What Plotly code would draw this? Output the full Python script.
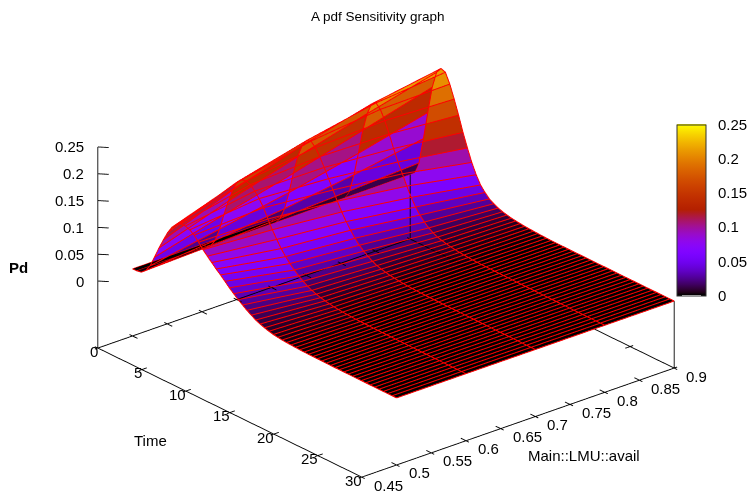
import math
import plotly.graph_objects as go

time_vals = [i * 0.5 for i in range(61)]
avail_vals = [0.5, 0.6, 0.7, 0.8, 0.9]
time_ticks = [0, 5, 10, 15, 20, 25, 30]
avail_ticks = [0.45, 0.5, 0.55, 0.6, 0.65, 0.7, 0.75, 0.8, 0.85, 0.9]
avail_labels = ["0.45", "0.5", "0.55", "0.6", "0.65", "0.7", "0.75", "0.8", "0.85", "0.9"]
pd_ticks = [0, 0.05, 0.1, 0.15, 0.2, 0.25]
pd_labels = ["0", "0.05", "0.1", "0.15", "0.2", "0.25"]

pd_a50 = [0, .0003, .002, .009, .022, .042, .063, .082, .1, .114, .123, .128, .128, .125, .119, .11, .1, .092, .084, .076,
          .069, .061, .053, .046, .039, .033, .027, .022, .017, .0135, .0105, .008, .006, .0048, .0038, .0031, .0026, .0021, .0017, .0014,
          .0012, .001, .0009, .0008, .0007, .0006, .0005, .0005, .0004, .0004, .0003, .0003, .0003, .0002, .0002, .0002, .0002, .0001, .0001, .0001, .0001]
pd_a60 = [0, .0005, .006, .02, .045, .076, .105, .13, .149, .157, .159, .156, .148, .138, .125, .108, .092, .078, .065, .054,
          .045, .037, .03, .024, .019, .015, .012, .0095, .0075, .0058, .0045, .0035, .0027, .0021, .0016, .0013, .001, .0009, .0008, .0007,
          .0006, .0005, .0005, .0004, .0004, .0003, .0003, .0003, .0002, .0002, .0002, .0002, .0001, .0001, .0001, .0001, .0001, .0001, .0001, .0001, .0001]
pd_a70 = [0, .001, .012, .034, .068, .108, .143, .168, .181, .184, .176, .163, .147, .13, .113, .096, .08, .066, .054, .043,
          .034, .027, .021, .016, .012, .0095, .0075, .0058, .0045, .0034, .0026, .002, .0015, .0012, .001, .0008, .0007, .0006, .0005, .0004,
          .0004, .0003, .0003, .0003, .0002, .0002, .0002, .0002, .0001, .0001, .0001, .0001, .0001, .0001, .0001, .0001, .0001, 0, 0, 0, 0]
pd_a80 = [0, .002, .018, .052, .096, .143, .178, .2, .206, .198, .181, .16, .137, .116, .098, .079, .062, .048, .037, .028,
          .021, .016, .012, .0095, .0075, .0058, .0045, .0034, .0026, .002, .0015, .0011, .0008, .0007, .0006, .0005, .0004, .0004, .0003, .0003,
          .0003, .0002, .0002, .0002, .0002, .0001, .0001, .0001, .0001, .0001, .0001, .0001, 0, 0, 0, 0, 0, 0, 0, 0, 0]
pd_a90 = [0, .003, .025, .074, .127, .178, .21, .221, .218, .2, .176, .15, .122, .097, .074, .055, .04, .03, .022, .017,
          .013, .01, .008, .0062, .005, .004, .003, .0025, .002, .0015, .0011, .0008, .0006, .0005, .0004, .0004, .0003, .0003, .0002, .0002,
          .0002, .0002, .0001, .0001, .0001, .0001, .0001, .0001, 0, 0, 0, 0, 0, 0, 0, 0, 0, 0, 0, 0, 0]
pd_columns = [pd_a50, pd_a60, pd_a70, pd_a80, pd_a90]

FONT = "Liberation Sans"
X_RANGE = [-1, 31]
Y_RANGE = [0.44, 0.91]
Z_RANGE = [-0.13, 0.255]
Z_BASE = -0.125
ZOOM = 1.7515
ASPECT = dict(x=1.0667 * ZOOM, y=1.0444 * ZOOM, z=0.5544 * ZOOM)
EYE_DIST = 2.0
elev = math.radians(24.4)
azim = math.radians(-40.2)
CAMERA = dict(
    projection=dict(type="orthographic"),
    up=dict(x=0, y=0, z=1),
    center=dict(x=0, y=0, z=0),
    eye=dict(x=EYE_DIST * math.cos(elev) * math.cos(azim),
             y=EYE_DIST * math.cos(elev) * math.sin(azim),
             z=EYE_DIST * math.sin(elev)),
)


def palette():
    stops = []
    n = 64
    for q in range(n + 1):
        f = q / n
        r = math.sqrt(f)
        g = f ** 3
        b = max(0.0, math.sin(2 * math.pi * f))
        stops.append([f, f"rgb({round(255*r)},{round(255*g)},{round(255*b)})"])
    return stops


def mesh(r0, r1, colorbar=None):
    xs, ys, zs, ii, jj, kk, vals = [], [], [], [], [], [], []
    nc = len(avail_vals)
    for r in range(r0, r1 + 1):
        for c in range(nc):
            xs.append(time_vals[r])
            ys.append(avail_vals[c])
            zs.append(pd_columns[c][r])
    for r in range(r1 - r0):
        for c in range(nc - 1):
            a = r * nc + c
            b = a + 1
            d = a + nc
            e = d + 1
            ii += [a, a]
            jj += [b, e]
            kk += [e, d]
            m = (zs[a] + zs[b] + zs[d] + zs[e]) / 4
            vals += [m, m]
    return go.Mesh3d(
        x=xs, y=ys, z=zs, i=ii, j=jj, k=kk,
        intensity=vals, intensitymode="cell",
        colorscale=palette(), cmin=0, cmax=0.25,
        showscale=colorbar is not None, colorbar=colorbar,
        flatshading=True,
        lighting=dict(ambient=1, diffuse=0, specular=0, roughness=1, fresnel=0),
        hoverinfo="skip",
    )


def wire():
    xs, ys, zs = [], [], []
    for c, a in enumerate(avail_vals):
        xs += time_vals + [None]
        ys += [a] * len(time_vals) + [None]
        zs += pd_columns[c] + [None]
    for r, t in enumerate(time_vals):
        xs += [t] * len(avail_vals) + [None]
        ys += avail_vals + [None]
        zs += [col[r] for col in pd_columns] + [None]
    return go.Scatter3d(x=xs, y=ys, z=zs, mode="lines", line=dict(color="#ff0000", width=2),
                        hoverinfo="skip", showlegend=False)


def frame():
    t0, t1 = time_ticks[0], time_ticks[-1]
    a0, a1 = avail_ticks[0], avail_ticks[-1]
    xs = [t0, t1, t1, t0, t0, None, t0, t0, None, t1, t1, None, t0, t0, None]
    ys = [a0, a0, a1, a1, a0, None, a0, a0, None, a1, a1, None, a1, a1, None]
    zs = [Z_BASE] * 5 + [None, Z_BASE, pd_ticks[-1], None, Z_BASE, 0, None, Z_BASE, 0, None]
    for t in time_ticks:
        for a, da0, da1 in ((a0, -0.0043, 0.0071), (a1, -0.0071, 0.0043)):
            xs += [t, t, None]
            ys += [a + da0, a + da1, None]
            zs += [Z_BASE, Z_BASE, None]
    for a in avail_ticks:
        for t, dt0, dt1 in ((t0, -0.34, 0.57), (t1, -0.57, 0.34)):
            xs += [t + dt0, t + dt1, None]
            ys += [a, a, None]
            zs += [Z_BASE, Z_BASE, None]
    for z in pd_ticks:
        xs += [t0, t0 + 0.6, None]
        ys += [a0, a0 + 0.0082, None]
        zs += [z, z, None]
    return go.Scatter3d(x=xs, y=ys, z=zs, mode="lines", line=dict(color="#000000", width=1.8),
                        hoverinfo="skip", showlegend=False)


tick_font = dict(family=FONT, size=15, color="#000000")
scene_notes = []
for z, s in zip(pd_ticks, pd_labels):
    scene_notes.append(dict(x=time_ticks[0], y=avail_ticks[0], z=z, text=s, showarrow=False,
                            xanchor="right", yanchor="middle", xshift=-12, yshift=0, font=tick_font))
for t in time_ticks:
    scene_notes.append(dict(x=t, y=avail_ticks[0], z=Z_BASE, text=str(t), showarrow=False,
                            xanchor="right", yanchor="middle", xshift=2, yshift=-3, font=tick_font))
for a, s in zip(avail_ticks, avail_labels):
    scene_notes.append(dict(x=time_ticks[-1], y=a, z=Z_BASE, text=s, showarrow=False,
                            xanchor="left", yanchor="middle", xshift=10, yshift=-8, font=tick_font))

axis = dict(showgrid=False, zeroline=False, showline=False, showticklabels=False, ticks="",
            showbackground=False, showspikes=False, title=dict(text=""))


def scene(extra=None):
    s = dict(
        domain=dict(x=[22 / 750, 1], y=[0, (491 - 24) / 491]),
        camera=CAMERA,
        aspectmode="manual", aspectratio=ASPECT,
        xaxis=dict(axis, range=X_RANGE),
        yaxis=dict(axis, range=Y_RANGE),
        zaxis=dict(axis, range=Z_RANGE),
        bgcolor="rgba(0,0,0,0)",
    )
    if extra:
        s.update(extra)
    return s


CB_TOP, CB_BOTTOM, CB_LEFT, CB_WIDTH = 124.5, 295.5, 677, 29
cbar = dict(
    x=CB_LEFT / 750, xanchor="left", xpad=0, y=1 - (CB_TOP + CB_BOTTOM) / 2 / 491, yanchor="middle", ypad=0,
    lenmode="pixels", len=CB_BOTTOM - CB_TOP, thicknessmode="pixels", thickness=CB_WIDTH,
    tickvals=pd_ticks, ticktext=pd_labels, ticks="outside", ticklen=9, tickcolor="rgba(0,0,0,0)",
    tickfont=tick_font, outlinecolor="#333333", outlinewidth=1,
)

cb_shapes = []
for z in pd_ticks:
    yy = 1 - (CB_BOTTOM - (CB_BOTTOM - CB_TOP) * z / pd_ticks[-1]) / 491
    for x0, x1 in ((CB_LEFT, CB_LEFT + 5), (CB_LEFT + CB_WIDTH - 5, CB_LEFT + CB_WIDTH)):
        cb_shapes.append(dict(type="line", xref="paper", yref="paper", x0=x0 / 750, x1=x1 / 750, y0=yy, y1=yy,
                              line=dict(color="#000000", width=1)))

t_fall = mesh(8, 60, cbar)
t_fall.scene = "scene"
t_rise = mesh(2, 8)
t_rise.scene = "scene2"
t_strip = mesh(0, 2)
t_strip.scene = "scene3"
w = wire()
w.scene = "scene3"
f = frame()
f.scene = "scene3"

label_font = dict(family=FONT, size=15, color="#000")
fig = go.Figure([t_fall, t_rise, t_strip, w, f])
fig.update_layout(
    width=750, height=491, margin=dict(l=0, r=0, t=0, b=0),
    paper_bgcolor="white", showlegend=False, shapes=cb_shapes,
    scene=scene(), scene2=scene(), scene3=scene(dict(annotations=scene_notes)),
    annotations=[
        dict(text="A pdf Sensitivity graph", x=378 / 750, y=1 - 17 / 491, xref="paper", yref="paper",
             showarrow=False, xanchor="center", yanchor="middle", font=dict(family=FONT, size=13.5, color="#000")),
        dict(text="<b>Pd</b>", x=18 / 750, y=1 - 267 / 491, xref="paper", yref="paper",
             showarrow=False, xanchor="center", yanchor="middle", font=label_font),
        dict(text="Time", x=150 / 750, y=1 - 440 / 491, xref="paper", yref="paper",
             showarrow=False, xanchor="center", yanchor="middle", font=label_font),
        dict(text="Main::LMU::avail", x=584 / 750, y=1 - 455 / 491, xref="paper", yref="paper",
             showarrow=False, xanchor="center", yanchor="middle", font=label_font),
    ],
)
fig.write_html("out.html", config=dict(displayModeBar=False),
               post_script="document.body.style.margin='0';document.body.style.overflow='hidden';")
